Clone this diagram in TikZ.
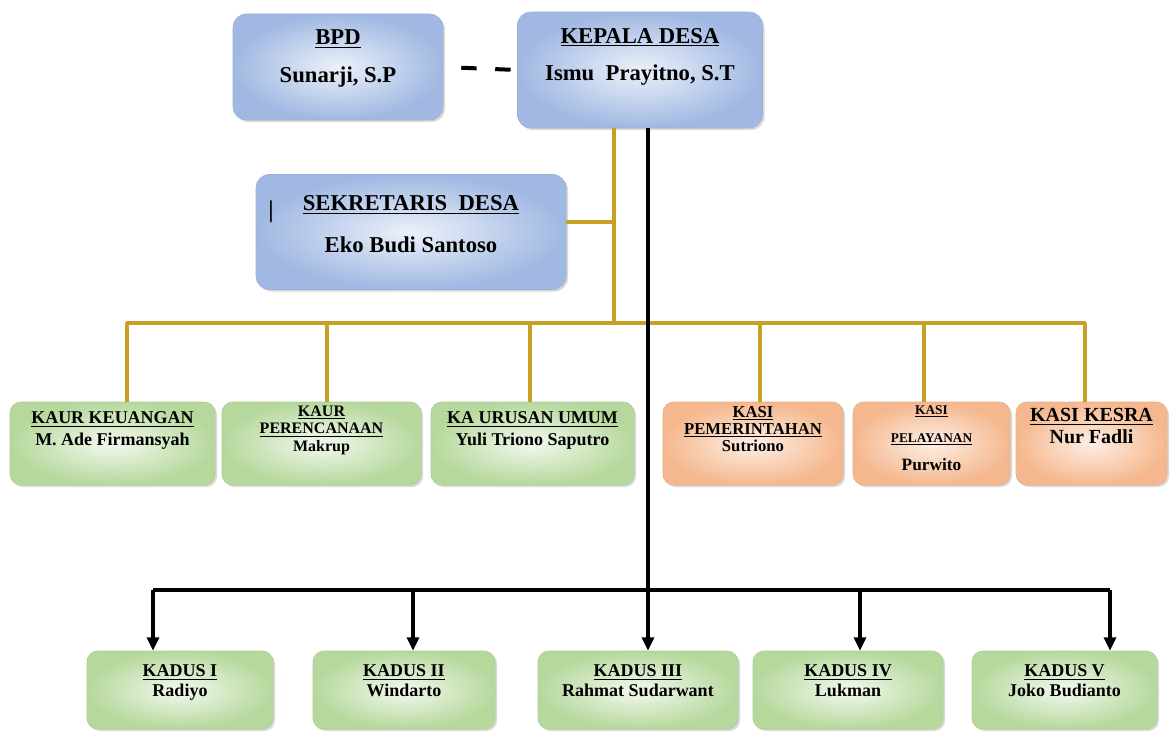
\documentclass[tikz,border=0pt]{standalone}
\usepackage{fontspec}
\setmainfont{Liberation Serif}
\usetikzlibrary{positioning,arrows.meta,shadows}

\definecolor{goldline}{RGB}{201,160,38}
\definecolor{blueedge}{RGB}{160,184,226}
\definecolor{greenedge}{RGB}{182,216,156}
\definecolor{orangeedge}{RGB}{245,184,142}

\begin{document}
\begin{tikzpicture}[x=0.75pt,y=0.75pt,yscale=-1,xscale=1,
        box/.style={rounded corners=10pt, line width=0.4pt, shading=radial,
            drop shadow={opacity=0.3, shadow xshift=1.5pt, shadow yshift=-1.5pt}},
        bluebox/.style={box, draw=blueedge!85!gray, inner color={rgb,255:red,236;green,241;blue,250}, outer color=blueedge},
        greenbox/.style={box, rounded corners=8pt, draw=greenedge!85!gray, inner color={rgb,255:red,243;green,249;blue,239}, outer color=greenedge},
        orangebox/.style={box, rounded corners=8pt, draw=orangeedge!85!gray, inner color={rgb,255:red,253;green,239;blue,230}, outer color=orangeedge},
        lbl/.style={inner sep=0pt, align=center, font=\bfseries},
        goldln/.style={goldline, line width=2.4pt},
        blackln/.style={black, line width=2.3pt},
        down/.style={blackln, -{Triangle[length=10pt,width=9pt]}}]
        \useasboundingbox (0,0) rectangle (1171,731);

        %Straight Lines: coordinates of the two trunks
        \coordinate (gtrunk) at (614,323);
        \coordinate (btrunk) at (648,590);
        \coordinate (sj) at (614,222);
        \coordinate (g1) at (127,323);
        \coordinate (g2) at (327,323);
        \coordinate (g3) at (530,323);
        \coordinate (g4) at (760,323);
        \coordinate (g5) at (924,323);
        \coordinate (g6) at (1085,323);
        \coordinate (d1) at (153,590);
        \coordinate (d2) at (413,590);
        \coordinate (d3) at (648,590);
        \coordinate (d4) at (860,590);
        \coordinate (d5) at (1110,590);

        %Shape: Rounded Rect -- top
        \node (bpd) [bluebox, minimum width=157.5pt, minimum height=79.5pt] at (338,67) {};
        \node (kepala) [bluebox, minimum width=183.75pt, minimum height=87pt] at (640,70) {};
        \node (sekdes) [bluebox, minimum width=232.5pt, minimum height=86.25pt] at (411,232) {};

        %Shape: Rounded Rect -- kaur / kasi
        \node (kaurkeu) [greenbox, minimum width=153.75pt, minimum height=62.25pt] at (112.5,443.5) {};
        \node (kaurren) [greenbox, minimum width=149.25pt, minimum height=62.25pt] at (321.5,443.5) {};
        \node (kaumum) [greenbox, minimum width=152.25pt, minimum height=62.25pt] at (532.5,443.5) {};
        \node (kasipem) [orangebox, minimum width=135pt, minimum height=62.25pt] at (753,443.5) {};
        \node (kasipel) [orangebox, minimum width=117.75pt, minimum height=62.25pt] at (931.5,443.5) {};
        \node (kasikes) [orangebox, minimum width=113.25pt, minimum height=62.25pt] at (1091.5,443.5) {};

        %Shape: Rounded Rect -- kadus
        \node (kadus1) [greenbox, minimum width=139.5pt, minimum height=58.5pt] at (180,690) {};
        \node (kadus2) [greenbox, minimum width=136.5pt, minimum height=58.5pt] at (404,690) {};
        \node (kadus3) [greenbox, minimum width=150pt, minimum height=58.5pt] at (638,690) {};
        \node (kadus4) [greenbox, minimum width=142.5pt, minimum height=58.5pt] at (848,690) {};
        \node (kadus5) [greenbox, minimum width=138.75pt, minimum height=58.5pt] at (1064.5,690) {};

        %Straight Lines
        \draw [black, line width=3pt, dash pattern=on 11.5pt off 14pt, dash phase=12pt] (bpd.east) -- (kepala.west);
        \draw [goldln] (gtrunk |- kepala.south) -- (gtrunk);
        \draw [goldln] (sj -| sekdes.east) -- (sj);
        \draw [goldln, line cap=round] (g1) -- (g6);
        \foreach \g/\n in {g1/kaurkeu, g2/kaurren, g3/kaumum, g4/kasipem, g5/kasipel, g6/kasikes}
            \draw [goldln] (\g) -- (\g |- \n.north);
        \draw [blackln] (btrunk |- kepala.south) -- (btrunk);
        \draw [blackln] (d1) -- (d5);
        \foreach \d/\n in {d1/kadus1, d2/kadus2, d3/kadus3, d4/kadus4, d5/kadus5}
            \draw [down] (\d) -- (\d |- \n.north);

        % Text Node
        \node (bpd-t) [lbl, below=12pt of bpd.north, font=\bfseries\fontsize{17}{28}\selectfont] {\underline{BPD}\\Sunarji, S.P};
        % Text Node
        \node (kepala-t) [lbl, below=12pt of kepala.north, font=\bfseries\fontsize{17}{28}\selectfont] {\underline{KEPALA DESA}\\Ismu\ \ Prayitno, S.T};
        % Text Node
        \node (sekdes-t) [lbl, below=16pt of sekdes.north, font=\bfseries\fontsize{17}{31}\selectfont] {\underline{SEKRETARIS\ \ DESA}\\Eko Budi Santoso};
        % Text Node
        \node (sekbar) [lbl, font=\bfseries\fontsize{18}{18}\selectfont] at (271,212) {|};
        % Text Node
        \node (kaurkeu-t) [lbl, below=7.5pt of kaurkeu.north, font=\bfseries\fontsize{13.5}{16}\selectfont] {\underline{KAUR KEUANGAN}\\M. Ade Firmansyah};
        % Text Node
        \node (kaurren-t) [lbl, below=3pt of kaurren.north, font=\bfseries\fontsize{12}{13}\selectfont] {\underline{KAUR}\\\underline{PERENCANAAN}\\Makrup};
        % Text Node
        \node (kaumum-t) [lbl, below=7.5pt of kaumum.north, font=\bfseries\fontsize{13.5}{16}\selectfont] {\underline{KA URUSAN UMUM}\\Yuli Triono Saputro};
        % Text Node
        \node (kasipem-t) [lbl, below=3pt of kasipem.north, font=\bfseries\fontsize{12.5}{13}\selectfont] {\underline{KASI}\\\underline{PEMERINTAHAN}\\Sutriono};
        % Text Node
        \node (kasipel-t) [lbl, below=2.5pt of kasipel.north, font=\bfseries\fontsize{10}{21}\selectfont] {\underline{KASI}\\\underline{PELAYANAN}\\{\fontsize{13}{13}\selectfont Purwito}};
        % Text Node
        \node (kasikes-t) [lbl, below=5pt of kasikes.north, font=\bfseries\fontsize{15}{16}\selectfont] {\underline{KASI KESRA}\\Nur Fadli};
        % Text Node
        \node (kadus1-t) [lbl, below=10.5pt of kadus1.north, font=\bfseries\fontsize{13.5}{15}\selectfont] {\underline{KADUS I}\\Radiyo};
        % Text Node
        \node (kadus2-t) [lbl, below=10.5pt of kadus2.north, font=\bfseries\fontsize{13.5}{15}\selectfont] {\underline{KADUS II}\\Windarto};
        % Text Node
        \node (kadus3-t) [lbl, below=10.5pt of kadus3.north, font=\bfseries\fontsize{13.5}{15}\selectfont] {\underline{KADUS III}\\Rahmat Sudarwant};
        % Text Node
        \node (kadus4-t) [lbl, below=10.5pt of kadus4.north, font=\bfseries\fontsize{13.5}{15}\selectfont] {\underline{KADUS IV}\\Lukman};
        % Text Node
        \node (kadus5-t) [lbl, below=10.5pt of kadus5.north, font=\bfseries\fontsize{13.5}{15}\selectfont] {\underline{KADUS V}\\Joko Budianto};

    \end{tikzpicture}
\end{document}
